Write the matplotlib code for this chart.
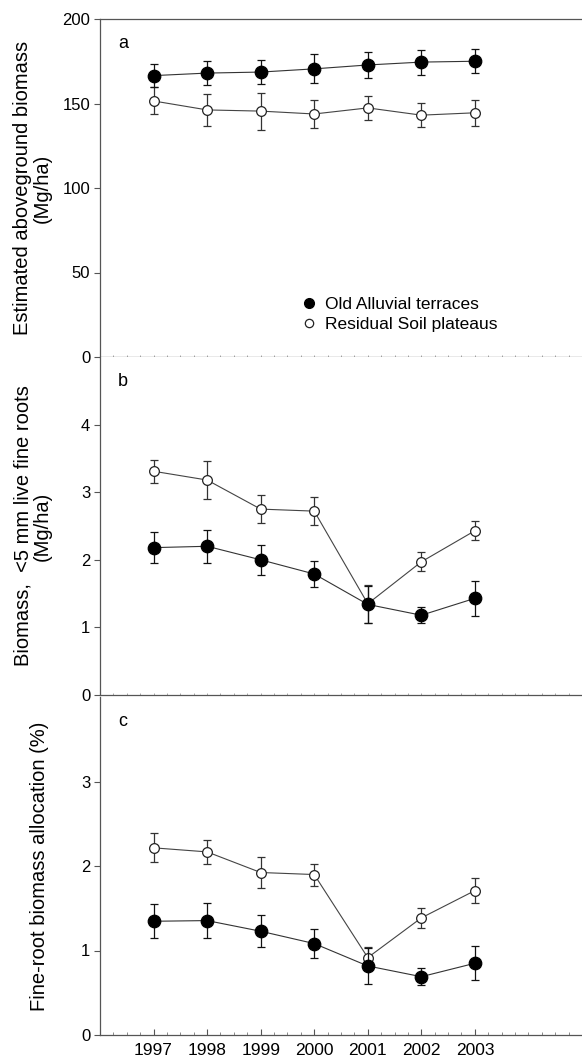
import matplotlib
matplotlib.use("Agg")
import matplotlib.pyplot as plt
from matplotlib.ticker import MultipleLocator
from matplotlib.lines import Line2D

plt.rcParams['font.family'] = ['Liberation Sans', 'DejaVu Sans']

years = [1997, 1998, 1999, 2000, 2001, 2002, 2003]

# Panel a: estimated aboveground biomass (Mg/ha)
agb_alluvial = [166.5, 168.0, 168.6, 170.5, 172.8, 174.5, 175.0]
agb_alluvial_err = [7.0, 7.2, 7.2, 8.5, 7.7, 7.4, 7.0]
agb_residual = [151.5, 146.2, 145.5, 143.8, 147.4, 143.1, 144.5]
agb_residual_err = [8.0, 9.5, 11.0, 8.4, 7.0, 7.2, 7.6]

# Panel b: <5 mm live fine roots biomass (Mg/ha)
fr_alluvial = [2.18, 2.20, 2.00, 1.79, 1.34, 1.18, 1.43]
fr_alluvial_err = [0.23, 0.245, 0.22, 0.19, 0.27, 0.12, 0.26]
fr_residual = [3.31, 3.18, 2.75, 2.72, 1.35, 1.97, 2.43]
fr_residual_err = [0.17, 0.28, 0.21, 0.21, 0.28, 0.14, 0.14]

# Panel c: fine-root biomass allocation (%)
alloc_alluvial = [1.346, 1.354, 1.228, 1.082, 0.817, 0.69, 0.849]
alloc_alluvial_err = [0.20, 0.21, 0.19, 0.17, 0.21, 0.10, 0.20]
alloc_residual = [2.215, 2.167, 1.923, 1.899, 0.916, 1.386, 1.709]
alloc_residual_err = [0.17, 0.14, 0.18, 0.13, 0.13, 0.12, 0.145]

series_labels = ["Old Alluvial terraces", "Residual Soil plateaus"]

fig = plt.figure(figsize=(5.82, 10.64), dpi=100)
left, right = 100 / 582, 1.0
tops = [19, 357, 697]
h = 338
axes = []
for t in tops:
    ax = fig.add_axes([left, 1 - (t + h) / 1064, right - left, h / 1064])
    axes.append(ax)

panels = [
    (agb_alluvial, agb_alluvial_err, agb_residual, agb_residual_err, (0, 200),
     [0, 50, 100, 150, 200], "Estimated aboveground biomass\n(Mg/ha)", "a"),
    (fr_alluvial, fr_alluvial_err, fr_residual, fr_residual_err, (0, 5),
     [0, 1, 2, 3, 4], "Biomass,  <5 mm live fine roots\n(Mg/ha)", "b"),
    (alloc_alluvial, alloc_alluvial_err, alloc_residual, alloc_residual_err, (0, 4),
     [0, 1, 2, 3], "Fine-root biomass allocation (%)", "c"),
]

for i, (ax, p) in enumerate(zip(axes, panels)):
    fa, fae, ra, rae, ylim, ticks, ylabel, letter = p
    ax.errorbar(years, ra, yerr=rae, fmt='o', color='#444444', mfc='white', mec='#222222',
                ms=7, mew=0.9, ecolor='#333333', elinewidth=0.9, capsize=3, capthick=0.9,
                ls='-', lw=0.8, zorder=3)
    ax.errorbar(years, fa, yerr=fae, fmt='o', color='#333333', mfc='black', mec='black',
                ms=9, mew=0.9, ecolor='#111111', elinewidth=0.9, capsize=3, capthick=0.9,
                ls='-', lw=0.8, zorder=4)
    ax.set_xlim(1996, 2005)
    ax.set_ylim(*ylim)
    ax.set_yticks(ticks)
    ax.tick_params(axis='y', direction='out', length=4, width=0.8, color='#555555',
                   labelsize=12, pad=3)
    ax.spines['right'].set_visible(False)
    ax.spines['top'].set_visible(i == 0)
    for s in ['left', 'bottom', 'top']:
        ax.spines[s].set_color('#555555')
        ax.spines[s].set_linewidth(0.9)
    ax.set_ylabel(ylabel, fontsize=14.5, linespacing=1.05)
    ax.text((118 - 100) / 482, 1 - 16 / 338, letter, transform=ax.transAxes,
            fontsize=13, va='top', ha='left')
    ax.set_xticks(years)
    ax.xaxis.set_minor_locator(MultipleLocator(0.25))
    if i < 2:
        ax.tick_params(axis='x', which='both', direction='in', length=1.5, width=0.6,
                       color='#999999', labelbottom=False)
    else:
        ax.tick_params(axis='x', which='major', direction='in', length=4, width=0.8,
                       color='#555555', labelsize=12.5, pad=6)
        ax.tick_params(axis='x', which='minor', direction='in', length=2, width=0.6,
                       color='#777777')

handles = [
    Line2D([], [], ls='none', marker='o', mfc='black', mec='black', ms=7),
    Line2D([], [], ls='none', marker='o', mfc='white', mec='#222222', ms=6, mew=0.9),
]
axes[0].legend(handles, series_labels, loc='upper left',
               bbox_to_anchor=((302 - 100) / 482, 1 - 278 / 338), frameon=False,
               fontsize=12.5, handlelength=0.8, handletextpad=0.5, labelspacing=0.25,
               borderpad=0, borderaxespad=0)

axes[0].yaxis.set_label_coords(-0.1, 0.5)
axes[1].yaxis.set_label_coords(-0.1, 0.5)
axes[2].yaxis.set_label_coords(-0.105, 0.5)

fig.savefig("out.png", dpi=100)
